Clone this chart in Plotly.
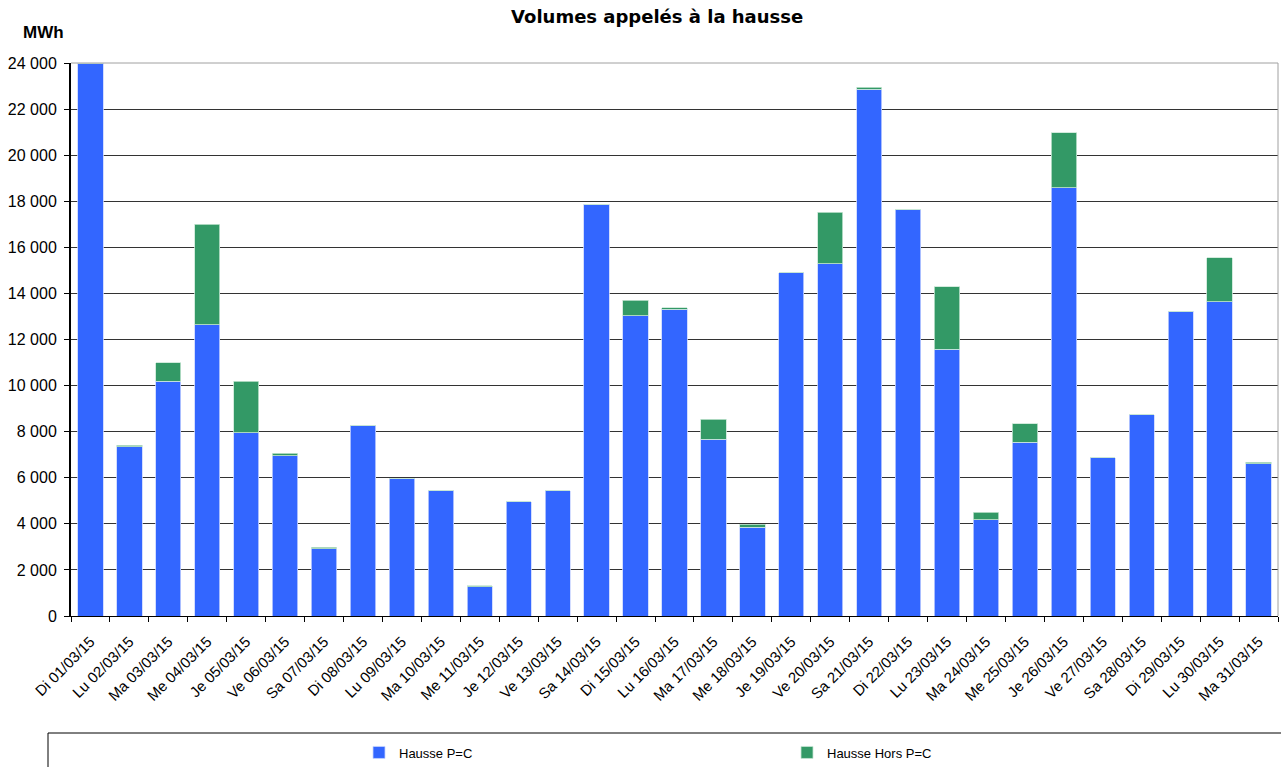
import plotly.graph_objects as go

categories = ["Di 01/03/15", "Lu 02/03/15", "Ma 03/03/15", "Me 04/03/15", "Je 05/03/15",
              "Ve 06/03/15", "Sa 07/03/15", "Di 08/03/15", "Lu 09/03/15", "Ma 10/03/15",
              "Me 11/03/15", "Je 12/03/15", "Ve 13/03/15", "Sa 14/03/15", "Di 15/03/15",
              "Lu 16/03/15", "Ma 17/03/15", "Me 18/03/15", "Je 19/03/15", "Ve 20/03/15",
              "Sa 21/03/15", "Di 22/03/15", "Lu 23/03/15", "Ma 24/03/15", "Me 25/03/15",
              "Je 26/03/15", "Ve 27/03/15", "Sa 28/03/15", "Di 29/03/15", "Lu 30/03/15",
              "Ma 31/03/15"]

hausse_pc = [24000, 7350, 10190, 12630, 7960, 6960, 2910, 8280, 5980, 5430,
             1270, 4960, 5430, 17870, 13040, 13320, 7670, 3850, 14890, 15290,
             22870, 17650, 11580, 4170, 7540, 18590, 6870, 8740, 13230, 13630,
             6610]

hausse_hors_pc = [0, 60, 800, 4380, 2230, 100, 70, 0, 0, 0,
                  45, 0, 0, 0, 660, 50, 870, 140, 0, 2230,
                  80, 0, 2710, 330, 810, 2390, 0, 0, 0, 1920,
                  60]

y_ticks = [0, 2000, 4000, 6000, 8000, 10000, 12000, 14000, 16000, 18000, 20000, 22000, 24000]

FONT = "Liberation Sans, Arial, sans-serif"

fig = go.Figure()
fig.add_trace(go.Bar(x=categories, y=hausse_pc, name="Hausse P=C",
                     marker=dict(color="#3366FF", line=dict(color="#c8d4ff", width=0.8))))
fig.add_trace(go.Bar(x=categories, y=hausse_hors_pc, name="Hausse Hors P=C",
                     marker=dict(color="#339966", line=dict(color="#c8e6d4", width=0.8))))

W, H = 1281, 767
L, R, T, B = 71, 3, 63, 151
pw = W - L - R
ph = H - T - B

fig.update_layout(
    width=W, height=H,
    barmode="stack", bargap=0.35,
    plot_bgcolor="white", paper_bgcolor="white",
    margin=dict(l=L, r=R, t=T, b=B, pad=0, autoexpand=False),
    separators=", ",
    font=dict(family=FONT, size=13, color="black"),
    title=dict(text="<b>Volumes appelés à la hausse</b>", x=0.513, xanchor="center",
               y=1 - 17 / H, yanchor="middle",
               font=dict(family="DejaVu Sans, Verdana, sans-serif", size=18, color="black")),
    showlegend=True,
    legend=dict(orientation="h", traceorder="normal",
                x=(359 - L) / pw, xanchor="left", y=(616 - 737.5) / ph, yanchor="top",
                font=dict(family=FONT, size=13, color="black"),
                entrywidth=383, entrywidthmode="pixels",
                bgcolor="rgba(0,0,0,0)", borderwidth=0, itemwidth=30),
    xaxis=dict(type="category", tickangle=-45, tickson="boundaries", ticks="outside",
               ticklen=5, tickcolor="black", showline=True, linecolor="black", linewidth=1,
               showgrid=False, automargin=False, ticklabelstandoff=10,
               tickfont=dict(family=FONT, size=15, color="black")),
    yaxis=dict(range=[0, 24000], tickvals=y_ticks, tickformat=",d", ticks="outside",
               ticklen=5, tickcolor="black", showline=True, linecolor="black", linewidth=2,
               showgrid=True, gridcolor="#333333", gridwidth=1, zeroline=False,
               automargin=False, ticklabelstandoff=4,
               tickfont=dict(family=FONT, size=16, color="black")),
)

# plot-area border on top and right (grey)
fig.add_shape(type="line", xref="paper", yref="paper", x0=0, x1=1, y0=1, y1=1,
              line=dict(color="#a0a0a0", width=1))
fig.add_shape(type="line", xref="paper", yref="paper", x0=1, x1=1, y0=0, y1=1,
              line=dict(color="#a0a0a0", width=1))

# legend frame
fig.add_shape(type="rect", xref="paper", yref="paper",
              x0=(48 - L) / pw, x1=(1290 - L) / pw,
              y0=(616 - 733) / ph, y1=(616 - 790) / ph,
              line=dict(color="black", width=1), fillcolor="rgba(0,0,0,0)", layer="below")

# unit label
fig.add_annotation(text="<b>MWh</b>", xref="paper", yref="paper",
                   x=(43 - L) / pw, y=(616 - 32) / ph, showarrow=False,
                   xanchor="center", yanchor="middle",
                   font=dict(family=FONT, size=17, color="black"))

fig.write_html("out.html", config={"displayModeBar": False},
               post_script="document.body.style.margin='0';document.body.style.overflow='hidden';")
